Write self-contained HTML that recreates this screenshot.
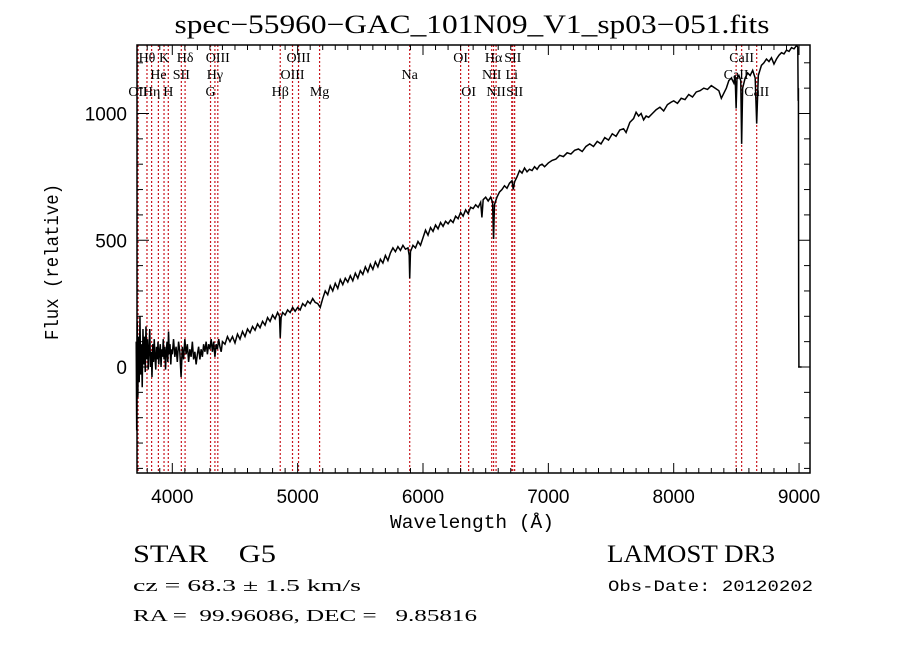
<!DOCTYPE html>
<html><head><meta charset="utf-8"><style>
html,body{margin:0;padding:0;background:#fff;}
svg{display:block;}
text{white-space:pre;}
</style></head><body>
<svg id="chart" width="900" height="649" viewBox="0 0 900 649" xmlns="http://www.w3.org/2000/svg" xml:space="preserve">
<rect x="0" y="0" width="900" height="649" fill="#fff"/>
<text x="472" y="33" text-anchor="middle" font-family="Liberation Serif, serif" font-size="26" textLength="595" lengthAdjust="spacingAndGlyphs">spec−55960−GAC_101N09_V1_sp03−051.fits</text>
<g id="lines"></g>
<g id="labels" font-family="Liberation Serif, serif" font-size="14"></g>
<g id="series"></g>
<g id="axes"></g>
<text x="472" y="528" text-anchor="middle" font-family="Liberation Mono, monospace" font-size="19" textLength="164" lengthAdjust="spacingAndGlyphs">Wavelength (Å)</text>
<text transform="translate(58,262) rotate(-90)" text-anchor="middle" font-family="Liberation Mono, monospace" font-size="19" textLength="156" lengthAdjust="spacingAndGlyphs">Flux (relative)</text>
<text x="133" y="562" font-family="Liberation Serif, serif" font-size="25" textLength="143" lengthAdjust="spacingAndGlyphs">STAR    G5</text>
<text x="133" y="591" font-family="Liberation Serif, serif" font-size="17" textLength="228" lengthAdjust="spacingAndGlyphs">cz = 68.3 ± 1.5 km/s</text>
<text x="133" y="621" font-family="Liberation Serif, serif" font-size="17" textLength="344" lengthAdjust="spacingAndGlyphs">RA =  99.96086, DEC =   9.85816</text>
<text x="607" y="562" font-family="Liberation Serif, serif" font-size="25" textLength="168" lengthAdjust="spacingAndGlyphs">LAMOST DR3</text>
<text x="608" y="591" font-family="Liberation Mono, monospace" font-size="16" textLength="205" lengthAdjust="spacingAndGlyphs">Obs-Date: 20120202</text>
</svg>
<script>
const wavelengths = [3712,3716,3720,3725,3730,3736,3742,3748,3754,3760,3766,3772,3778,3784,3790,3796,3802,3808,3814,3820,3826,3832,3838,3844,3850,3856,3862,3868,3874,3880,3886,3892,3898,3904,3910,3916,3922,3928,3934,3940,3946,3952,3958,3964,3970,3976,3982,3988,3994,4000,
4010,4020,4030,4040,4050,4060,4070,4080,4090,4100,4110,4120,4130,4140,4150,4160,4170,4180,4190,4200,4210,4220,4230,4240,4250,4260,4270,4280,4290,4300,4310,4320,4330,4340,4350,4360,4370,4380,4390,4400,4420,4440,4460,4480,4500,4520,4540,4560,4580,4600,4620,4640,4660,4680,4700,4720,4740,4760,4780,4800,4820,4840,4855,4861,4868,4880,4900,4920,4940,4960,4980,5000,5020,5040,5060,5080,5100,5120,5140,5160,5180,5200,5220,5240,5260,5280,5300,5320,5340,5360,5380,5400,5420,5440,5460,5480,5500,5520,5540,5560,5580,5600,5620,5640,5660,5680,5700,5720,5740,5760,5780,5800,5820,5840,5860,5880,5890,5894,5900,5920,5940,5960,5980,6000,6020,6040,6060,6080,6100,6120,6140,6160,6180,6200,6220,6240,6260,6280,6300,6320,6340,6360,6380,6400,6420,6440,6460,6470,6480,6500,6520,6540,6555,6563,6570,6590,6610,6630,6650,6670,6690,6710,6720,6730,6750,6770,6790,6810,6830,6850,6870,6890,6910,6930,6950,6970,7000,7030,7060,7090,7120,7150,7180,7210,7240,7270,7300,7330,7360,7390,7420,7450,7480,7510,7540,7570,7600,7620,7650,7680,7700,7720,7740,7760,7780,7800,7830,7860,7890,7920,7950,7980,8000,8030,8060,8090,8120,8150,8180,8210,8240,8270,8300,8330,8360,8380,8400,8420,8440,8460,8480,8490,8498,8505,8520,8535,8542,8550,8570,8590,8610,8630,8650,8662,8675,8700,8720,8740,8760,8780,8800,8820,8840,8860,8880,8900,8920,8940,8960,8980,8990,8993,8995,8997,8999,9020];
const fluxValues = [100,-250,180,-120,120,-60,200,-30,90,-80,150,10,120,-20,160,30,110,-10,70,150,0,60,-40,90,20,110,40,-10,80,30,100,10,60,90,0,70,40,110,30,80,-10,60,100,20,140,50,90,10,70,50,
110,40,80,20,100,60,-40,80,30,110,50,90,20,70,40,100,30,60,10,50,80,30,70,40,90,60,100,50,90,70,110,60,100,40,90,70,110,80,60,100,90,120,100,120,95,130,110,140,120,150,135,160,145,170,155,180,165,195,180,205,190,215,200,115,195,215,205,225,215,235,220,235,225,250,240,260,250,270,255,250,235,270,300,285,320,300,330,310,345,325,350,335,360,340,370,350,380,365,395,375,405,385,415,395,425,410,440,420,450,470,455,475,460,480,465,470,440,350,455,480,470,495,480,510,540,520,550,535,560,545,570,555,575,565,580,570,595,585,610,595,620,605,630,625,640,630,650,590,660,670,655,670,650,505,640,670,690,700,715,705,725,735,700,730,750,775,765,785,770,780,775,790,780,795,800,790,805,815,820,835,830,845,840,855,860,850,870,880,870,890,880,905,895,920,910,935,940,925,965,980,1005,990,1000,975,990,985,1000,1015,1025,1010,1035,1045,1050,1040,1060,1055,1075,1065,1085,1090,1100,1095,1110,1100,1090,1060,1080,1100,1130,1140,1120,1150,1020,1140,1150,1130,880,1100,1140,1160,1150,1170,1140,960,1150,1190,1200,1215,1205,1220,1195,1215,1230,1240,1235,1250,1245,1260,1255,1268,1262,1050,1100,250,0,0];
const lineWavelengths = [3727,3798,3835,3889,3934,3968,4072,4102,4305,4340,4363,4861,4959,5007,5175,5894,6300,6364,6548,6563,6583,6708,6716,6731,8498,8542,8662];
const lineNames = ["OII","Hθ","Hη","He","K","H","SII","Hδ","G","Hγ","OIII","Hβ","OIII","OIII","Mg","Na","OI","OI","NII","Hα","NII","Li","SII","SII","CaII","CaII","CaII"];
const lineRows = [2,0,2,1,0,2,1,0,2,1,0,2,1,0,2,1,0,2,1,0,2,1,0,2,1,0,2];
const xTickValues = [4000,5000,6000,7000,8000,9000];
const xTickLabels = ["4000","5000","6000","7000","8000","9000"];
const yTickValues = [0,500,1000];
const yTickLabels = ["0","500","1000"];

const NS="http://www.w3.org/2000/svg";
const L=137,R=810,T=45,B=473;
function xs(w){return 172.3+(w-4000)*0.12535;}
function ys(v){return 367-v*0.2535;}
function mk(tag,attrs,parent){const e=document.createElementNS(NS,tag);for(const k in attrs)e.setAttribute(k,attrs[k]);parent.appendChild(e);return e;}

const gl=document.getElementById('lines');
const glab=document.getElementById('labels');
const rowY=[62,79,96];
lineWavelengths.forEach((w,i)=>{
  const x=xs(w);
  const ln=mk('line',{x1:x,x2:x,y1:T,y2:B,stroke:'#c8161d','stroke-width':1.2,'stroke-dasharray':'2,2'},gl);
  
  
  const t=mk('text',{x:x,y:rowY[lineRows[i]],'text-anchor':'middle'},glab);
  t.textContent=lineNames[i];
  
  
});

const gs=document.getElementById('series');
let d='';
wavelengths.forEach((w,i)=>{d+=(i?'L':'M')+xs(w).toFixed(2)+' '+ys(fluxValues[i]).toFixed(2);});
const p=mk('path',{d:d,fill:'none',stroke:'#000','stroke-width':1.5,'stroke-linejoin':'miter'},gs);



const ga=document.getElementById('axes');
const frame=mk('rect',{x:L,y:T,width:R-L,height:B-T,fill:'none',stroke:'#000','stroke-width':1.5},ga);


for(let w=3800;w<=9000;w+=100){
  const x=xs(w);const major=(w%1000===0);const len=major?10:5;
  mk('line',{x1:x,x2:x,y1:B,y2:B-len,stroke:'#000','stroke-width':1},ga);
  mk('line',{x1:x,x2:x,y1:T,y2:T+len,stroke:'#000','stroke-width':1},ga);
}
for(let v=-400;v<=1200;v+=100){
  const y=ys(v);const major=(v%500===0);const len=major?12:6;
  mk('line',{x1:L,x2:L+len,y1:y,y2:y,stroke:'#000','stroke-width':1},ga);
  mk('line',{x1:R,x2:R-len,y1:y,y2:y,stroke:'#000','stroke-width':1},ga);
}
xTickValues.forEach((v,i)=>{
  const t=mk('text',{x:xs(v),y:503,'text-anchor':'middle','font-family':'Liberation Sans, sans-serif','font-size':19},ga);
  t.textContent=xTickLabels[i];
  
  
});
yTickValues.forEach((v,i)=>{
  const t=mk('text',{x:127,y:ys(v)+7,'text-anchor':'end','font-family':'Liberation Sans, sans-serif','font-size':19},ga);
  t.textContent=yTickLabels[i];
  
  
});
</script>
</body></html>
